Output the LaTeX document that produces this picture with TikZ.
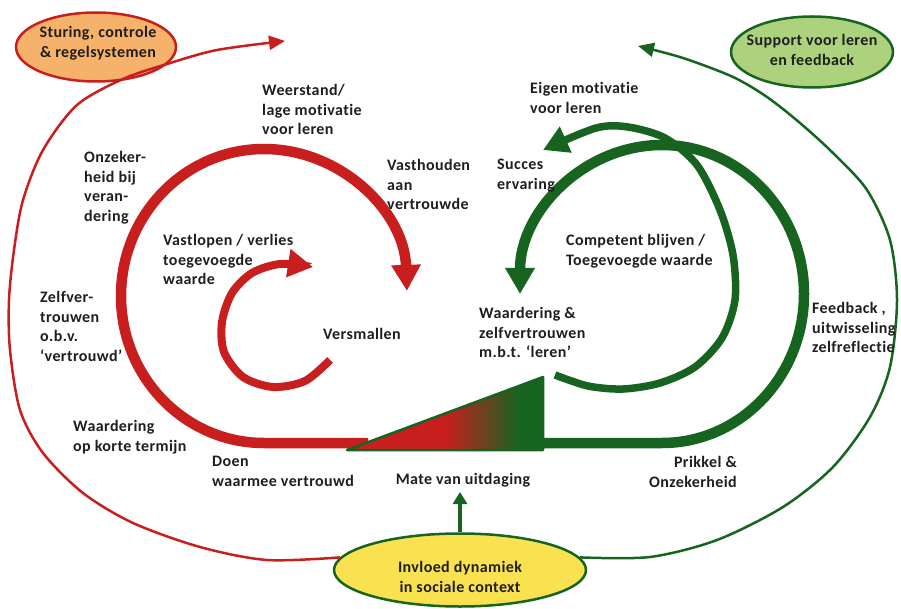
\documentclass[tikz,border=0pt]{standalone}
\usepackage{fontspec}
\setmainfont{Carlito}[LetterSpace=2.5,Ligatures=NoCommon]
\usetikzlibrary{arrows.meta,shapes.geometric}
\definecolor{myred}{RGB}{200,30,30}
\definecolor{mygreen}{RGB}{22,100,32}
\definecolor{myorange}{RGB}{246,178,107}
\definecolor{mylgreen}{RGB}{172,210,125}
\definecolor{myyellow}{RGB}{250,225,80}
\definecolor{mytext}{RGB}{30,30,30}
\pgfdeclarehorizontalshading{redgreen}{100bp}{color(0bp)=(myred); color(50bp)=(myred); color(69bp)=(mygreen); color(100bp)=(mygreen)}
\newcommand\lblfont{\fontsize{16}{19.7}\selectfont\bfseries}
\tikzset{
  lbl/.style={anchor=north west, inner sep=0pt, align=left, font=\lblfont, text=mytext, execute at begin node=\strut},
  lblr/.style={lbl, anchor=north east, align=right},
  lblc/.style={lbl, anchor=north, align=center},
  oval/.style={ellipse, line width=2.5pt, inner sep=0pt},
  thinred/.style={draw=myred, line width=2.5pt, -{Triangle[length=16pt,width=14pt]}},
  thingreen/.style={draw=mygreen, line width=2.5pt, -{Triangle[length=16pt,width=14pt]}},
  thickred/.style={draw=myred, line width=10.5pt},
  thickgreen/.style={draw=mygreen, line width=10.5pt},
  bighead/.style={-{Triangle[length=26pt,width=28pt]}},
  midhead/.style={-{Triangle[length=25pt,width=27pt]}}
}
\begin{document}
\begin{tikzpicture}[x=1pt,y=-1pt]
\useasboundingbox (0,0) rectangle (901,609);

% ellipses
\node[oval, draw=myred, fill=myorange, minimum width=160pt, minimum height=69pt] (stur) at (96,47) {};
\node[oval, draw=mygreen, fill=mylgreen, minimum width=162pt, minimum height=71pt] (supp) at (812,52) {};
\node[oval, draw=mygreen, fill=myyellow, minimum width=252pt, minimum height=73pt] (invl) at (460,570) {};

% ellipse texts
\node[lblc] (sturtxt) at (98,26) {Sturing, controle\\\& regelsystemen};
\node[lblc] (supptxt) at (812,34) {Support voor leren\\en feedback};
\node[lblc] (invltxt) at (460,561) {Invloed dynamiek\\in sociale context};

% thin outer arrows
\draw[thinred] plot[smooth] coordinates {(invl.174) (267,560) (200,547) (133,523) (83,493) (43,453) (20,410) (10,350) (9,300) (14,250) (23,200) (43,150) (77,105) (123,79) (167,64) (217,50) (285,41)};
\draw[thingreen] plot[smooth] coordinates {(invl.6) (650,557) (717,540) (783,507) (833,467) (870,417) (890,367) (897,300) (890,240) (867,190) (833,153) (800,123) (767,97) (733,77) (683,58) (638,46)};

% red spiral
\draw[thickred, bighead] (368,443) -- (264,443) arc[start angle=90, end angle=358, x radius=143, y radius=147];
\draw[draw=myred, line width=8pt, midhead] plot[smooth] coordinates {(330,360) (305,381) (273,387) (243,377) (224,352) (222,322) (232,293) (252,273) (280,264) (313,267)};

% green spiral
\draw[thickgreen, bighead] (540,443) -- (662,443) arc[start angle=90, end angle=-180, x radius=142, y radius=149];
\draw[draw=mygreen, line width=7.5pt, midhead] plot[smooth] coordinates {(555,375) (588,386) (623,389) (660,383) (695,367) (722,338) (735,300) (733,255) (720,210) (697,165) (665,138) (628,127) (596,128) (543,150)};

% triangle
\shadedraw[shading=redgreen, draw=mygreen, line width=2.5pt, line join=round] (347,450) -- (543,450) -- (543,377) -- cycle;

% labels
\node[lbl] (weer) at (262,84) {Weerstand/\\lage motivatie\\voor leren};
\node[lbl] (onz) at (84,151) {Onzeker-\\heid bij\\veran-\\dering};
\node[lbl] (vast) at (387,159) {Vasthouden\\aan\\vertrouwde};
\node[lbl] (vastl) at (163,234) {Vastlopen / verlies\\toegevoegde\\waarde};
\node[lbl] (zelf) at (40,291) {Zelfver-\\trouwen\\o.b.v.\\‘vertrouwd’};
\node[lbl] (vers) at (323,326) {Versmallen};
\node[lbl] (waardk) at (73,420) {Waardering\\op korte termijn};
\node[lbl] (doen) at (212,456) {Doen\\waarmee vertrouwd};
\node[lblc] (mate) at (463,471) {Mate van uitdaging};
\node[lbl] (eigen) at (530,82) {Eigen motivatie\\voor leren};
\node[lbl] (succ) at (497,159) {Succes\\ervaring};
\node[lbl] (comp) at (566,234) {Competent blijven /\\Toegevoegde waarde};
\node[lbl] (wzv) at (479,307) {Waardering \&\\zelfvertrouwen\\m.b.t. ‘leren’};
\node[lbl] (feed) at (812,302) {Feedback ,\\uitwisseling\\zelfreflectie};
\node[lblr] (prik) at (737,456) {Prikkel \&\\Onzekerheid};

% influence arrow
\coordinate (upend) at (460,492);
\draw[draw=mygreen, line width=4pt, -{Triangle[length=12pt,width=14pt]}] (invl.north) -- (upend);
\end{tikzpicture}
\end{document}
